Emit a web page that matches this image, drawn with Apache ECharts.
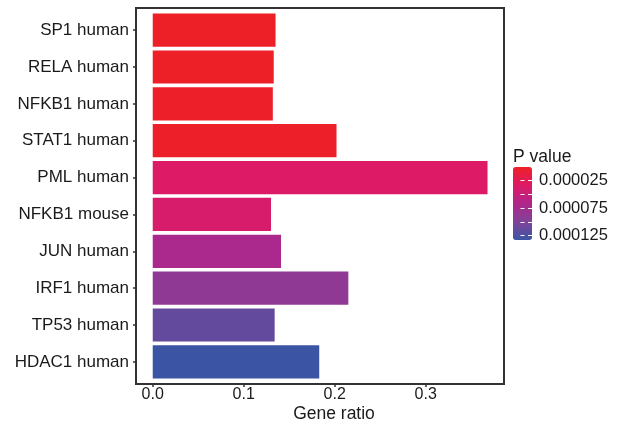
<!DOCTYPE html>
<html>
<head>
<meta charset="utf-8">
<script src="https://cdn.jsdelivr.net/npm/echarts@6/dist/echarts.min.js"></script>
<style>
  html, body {margin: 0; padding: 0; background: #fff;}
  #chart {width: 627px; height: 432px;}
</style>
</head>
<body>
<div id="chart"></div>
<script>
// terms, top to bottom
var terms = ['SP1 human', 'RELA human', 'NFKB1 human', 'STAT1 human', 'PML human',
             'NFKB1 mouse', 'JUN human', 'IRF1 human', 'TP53 human', 'HDAC1 human'];
var geneRatio = [0.135, 0.133, 0.132, 0.202, 0.368, 0.130, 0.141, 0.215, 0.134, 0.183];
var pValue = [0.0000005, 0.000001, 0.0000015, 0.000002, 0.000033,
              0.000038, 0.00007, 0.000088, 0.000113, 0.000133];
var xTicks = [0, 0.1, 0.2, 0.3];
var pTicks = [0.000025, 0.00005, 0.000075, 0.0001, 0.000125];
var pLabels = [0.000025, 0.000075, 0.000125];
var pColors = ['#EE2026', '#DD1A66', '#B0268A', '#7F4399', '#3B54A4'];

var rows = [];
for (var i = 0; i < terms.length; i++) {
    rows.push([geneRatio[i], i + 1, pValue[i]]);
}

var txt = '#1a1a1a';
var font = 'Liberation Sans';

var chart = echarts.init(document.getElementById('chart'));
chart.setOption({
    animation: false,
    textStyle: {fontFamily: font},
    title: {
        text: 'P value',
        left: 513,
        top: 148,
        padding: 0,
        textStyle: {fontFamily: font, fontSize: 17.5, fontWeight: 'normal', color: txt}
    },
    grid: [{
        left: 136, right: 123, top: 8, bottom: 48, outerBoundsMode: 'none',
        show: true, borderColor: '#333', borderWidth: 2, backgroundColor: '#fff'
    }, {
        left: 513, top: 167, width: 19, height: 73, outerBoundsMode: 'none'
    }],
    visualMap: {
        type: 'continuous',
        seriesIndex: 0,
        dimension: 2,
        min: 0,
        max: 0.000133,
        inverse: true,
        calculable: false,
        hoverLink: false,
        left: 513,
        top: 167,
        itemWidth: 19,
        itemHeight: 73,
        padding: 0,
        text: null,
        inRange: {color: pColors}
    },
    xAxis: [{
        type: 'value',
        min: -0.0184,
        max: 0.3861,
        name: 'Gene ratio',
        nameLocation: 'middle',
        nameGap: 21,
        nameMoveOverlap: false,
        nameTextStyle: {fontSize: 17.5, color: txt, padding: [0, 0, 0, 28]},
        axisLine: {show: false, onZero: false},
        splitLine: {show: false},
        axisTick: {show: true, length: 3, customValues: xTicks, lineStyle: {color: '#333', width: 1.5}},
        axisLabel: {
            customValues: xTicks, margin: 3, fontSize: 16, color: txt,
            formatter: function (v) { return v.toFixed(1); }
        }
    }, {
        gridIndex: 1, type: 'value', show: false
    }],
    yAxis: [{
        type: 'value',
        min: 0.4,
        max: 10.6,
        inverse: true,
        name: 'Terms',
        nameLocation: 'middle',
        nameGap: 132,
        nameMoveOverlap: false,
        nameTextStyle: {fontSize: 17.5, color: txt},
        axisLine: {show: false, onZero: false},
        splitLine: {show: false},
        axisTick: {show: true, length: 3, customValues: [1, 2, 3, 4, 5, 6, 7, 8, 9, 10],
                   lineStyle: {color: '#333', width: 1.5}},
        axisLabel: {
            customValues: [1, 2, 3, 4, 5, 6, 7, 8, 9, 10], margin: 7, fontSize: 17, color: txt,
            formatter: function (v) { return terms[Math.round(v) - 1]; }
        }
    }, {
        gridIndex: 1,
        type: 'value',
        min: 0,
        max: 0.000133,
        inverse: true,
        position: 'right',
        z: 10,
        axisLine: {show: false, onZero: false},
        splitLine: {show: false},
        axisTick: {show: true, inside: true, length: 12, customValues: pTicks,
                   lineStyle: {color: '#fff', width: 1, type: [4, 3.5]}},
        axisLabel: {
            customValues: pLabels, margin: 7, fontSize: 16.5, color: txt,
            formatter: function (v) { return v.toFixed(6); }
        }
    }],
    series: [{
        type: 'custom',
        xAxisIndex: 0,
        yAxisIndex: 0,
        encode: {x: 0, y: 1},
        data: rows,
        renderItem: function (params, api) {
            var a = api.coord([0, api.value(1) - 0.45]);
            var b = api.coord([api.value(0), api.value(1) + 0.45]);
            return {
                type: 'rect',
                shape: {x: a[0], y: Math.min(a[1], b[1]), width: b[0] - a[0], height: Math.abs(b[1] - a[1])},
                style: {fill: api.visual('color')}
            };
        }
    }]
});
</script>
</body>
</html>
